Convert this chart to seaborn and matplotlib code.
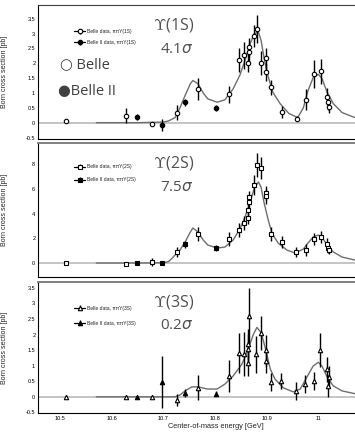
import matplotlib
matplotlib.use("Agg")
import matplotlib.pyplot as plt
import seaborn as sns
from matplotlib.ticker import MultipleLocator, FuncFormatter
from matplotlib.lines import Line2D

### data (x in GeV, y in pb)
# Upsilon(1S)
u1_belle_x = [10.511, 10.627, 10.678, 10.726, 10.767, 10.827, 10.847, 10.856, 10.864, 10.866, 10.866,
              10.876, 10.882, 10.889, 10.899, 10.899, 10.909, 10.930, 10.959, 10.976, 10.992, 11.005,
              11.017, 11.019, 11.021]
u1_belle_y = [0.07, 0.24, -0.03, 0.34, 1.12, 0.95, 2.10, 2.27, 2.00, 2.37, 2.54, 2.92, 3.15, 2.00,
              2.17, 1.70, 1.19, 0.37, 0.14, 0.78, 1.63, 1.73, 0.88, 0.68, 0.54]
u1_belle_err = [0.05, 0.24, 0.06, 0.25, 0.37, 0.30, 0.40, 0.45, 0.30, 0.30, 0.30, 0.37, 0.47, 0.40,
                0.35, 0.30, 0.25, 0.20, 0.08, 0.36, 0.47, 0.42, 0.30, 0.25, 0.20]
u1_b2_x = [10.649, 10.697, 10.742, 10.802]
u1_b2_y = [0.20, -0.07, 0.68, 0.50]
u1_b2_err = [0.10, 0.20, 0.11, 0.10]
u1_fit_x = [10.57, 10.65, 10.70, 10.71, 10.7225, 10.732, 10.742, 10.752, 10.757, 10.767, 10.777,
            10.786, 10.804, 10.819, 10.835, 10.848, 10.858, 10.868, 10.876, 10.884, 10.889, 10.895,
            10.903, 10.912, 10.926, 10.943, 10.960, 10.971, 10.980, 10.990, 11.000, 11.007, 11.017,
            11.029, 11.046, 11.071]
u1_fit_y = [0, 0, 0.02, 0.06, 0.17, 0.50, 0.92, 1.31, 1.42, 1.31, 1.00, 0.80, 0.69, 0.77, 1.14,
            1.60, 2.10, 2.67, 3.00, 3.05, 2.78, 2.17, 1.54, 1.02, 0.64, 0.31, 0.17, 0.50, 1.08,
            1.52, 1.63, 1.49, 1.02, 0.64, 0.34, 0.17]

# Upsilon(2S)
u2_belle_x = [10.511, 10.627, 10.678, 10.726, 10.767, 10.827, 10.847, 10.856, 10.864, 10.864, 10.866,
              10.866, 10.876, 10.882, 10.889, 10.899, 10.899, 10.909, 10.930, 10.957, 10.976, 10.992,
              11.005, 11.017, 11.019, 11.021]
u2_belle_y = [0.0, -0.08, 0.08, 0.90, 2.35, 1.94, 2.67, 3.23, 3.64, 4.28, 4.93, 5.33, 6.30, 7.92,
              7.68, 5.66, 5.40, 2.34, 1.70, 0.89, 1.05, 1.94, 2.10, 1.54, 1.20, 1.05]
u2_belle_err = [0.15, 0.20, 0.30, 0.40, 0.55, 0.55, 0.55, 0.60, 0.50, 0.50, 0.50, 0.50, 0.80, 0.95,
                0.90, 0.60, 0.60, 0.60, 0.50, 0.40, 0.45, 0.45, 0.50, 0.45, 0.40, 0.35]
u2_b2_x = [10.649, 10.697, 10.742, 10.802]
u2_b2_y = [0.0, 0.0, 1.50, 1.20]
u2_b2_err = [0.15, 0.15, 0.25, 0.25]
u2_fit_x = [10.57, 10.65, 10.70, 10.71, 10.716, 10.7225, 10.732, 10.742, 10.752, 10.757, 10.767,
            10.777, 10.786, 10.804, 10.819, 10.835, 10.848, 10.858, 10.868, 10.876, 10.884, 10.889,
            10.895, 10.903, 10.910, 10.922, 10.939, 10.955, 10.971, 10.980, 10.990, 11.000, 11.007,
            11.017, 11.029, 11.046, 11.071]
u2_fit_y = [0, 0, 0.02, 0.12, 0.35, 0.65, 1.05, 1.70, 2.50, 2.83, 2.50, 1.86, 1.45, 1.21, 1.29,
            1.86, 2.75, 3.72, 4.93, 6.06, 6.55, 6.14, 4.85, 3.47, 2.42, 1.62, 1.05, 0.81, 1.13,
            1.62, 2.10, 2.26, 2.10, 1.45, 0.89, 0.48, 0.24]

# Upsilon(3S)
u3_belle_x = [10.511, 10.627, 10.678, 10.726, 10.767, 10.827, 10.847, 10.856, 10.864, 10.864, 10.864,
              10.866, 10.879, 10.889, 10.899, 10.899, 10.909, 10.928, 10.957, 10.974, 10.992, 11.004,
              11.017, 11.019, 11.021]
u3_belle_y = [0, 0, 0, -0.10, 0.29, 0.67, 1.40, 1.37, 1.08, 1.53, 1.69, 2.61, 1.37, 2.04, 1.50,
              1.15, 0.48, 0.51, 0.19, 0.41, 0.51, 1.50, 0.89, 0.35, 0.64]
u3_belle_err = [0.03, 0.03, 0.03, 0.20, 0.40, 0.50, 0.65, 0.70, 0.40, 0.50, 0.50, 0.90, 0.60, 0.55,
                0.50, 0.40, 0.30, 0.25, 0.30, 0.30, 0.30, 0.55, 0.40, 0.35, 0.35]
u3_b2_x = [10.649, 10.697, 10.742, 10.802]
u3_b2_y = [0.0, 0.48, 0.13, 0.10]
u3_b2_err = [0.03, 0.83, 0.12, 0.08]
u3_fit_x = [10.57, 10.70, 10.7225, 10.732, 10.742, 10.755, 10.767, 10.785, 10.804, 10.819, 10.835,
            10.852, 10.864, 10.874, 10.881, 10.889, 10.897, 10.907, 10.916, 10.932, 10.951, 10.965,
            10.978, 10.990, 11.000, 11.007, 11.017, 11.029, 11.046, 11.071]
u3_fit_y = [0, 0, 0, 0.06, 0.19, 0.32, 0.32, 0.25, 0.25, 0.41, 0.67, 1.05, 1.53, 2.00, 2.23, 2.07,
            1.59, 0.89, 0.57, 0.29, 0.16, 0.25, 0.64, 0.99, 1.11, 0.99, 0.64, 0.35, 0.19, 0.10]

states = ["1S", "2S", "3S"]
signifs = ["4.1", "7.5", "0.2"]

sns.set_style("white")
plt.rcParams["axes.unicode_minus"] = False
plt.rcParams["font.family"] = ["Liberation Sans", "DejaVu Sans"]

fig = plt.figure(figsize=(3.55, 4.33), dpi=100)
axes = [fig.add_axes([0.107, 0.679, 0.893, 0.3095]),
        fig.add_axes([0.107, 0.3603, 0.893, 0.3094]),
        fig.add_axes([0.107, 0.0462, 0.893, 0.3025])]

fmt_g = FuncFormatter(lambda v, p: "%g" % round(v, 2))


def draw_panel(ax, bx, by, be, b2x, b2y, b2e, fx, fy, marker, state, signif,
               ylim, major, minor, leg_anchor, leg_space):
    ax.axhline(0, color="#b5b5b5", lw=1.1, zorder=1)
    sns.lineplot(x=fx, y=fy, ax=ax, color="#6e6e6e", lw=1.0, zorder=2)
    e1 = ax.errorbar(bx, by, yerr=be, fmt=marker, ms=3.2, mfc="white", mec="black", mew=0.8,
                     ecolor="black", elinewidth=1.0, capsize=0, zorder=4)
    e2 = ax.errorbar(b2x, b2y, yerr=b2e, fmt=marker, ms=3.2, mfc="black", mec="black", mew=0.8,
                     ecolor="black", elinewidth=1.0, capsize=0, zorder=5)
    hline = Line2D([], [], color="black", lw=0.9)
    ax.legend([(hline, e1), (hline, e2)],
              ["Belle data, \u03c0\u03c0\u03a5(%s)" % state, "Belle II data, \u03c0\u03c0\u03a5(%s)" % state],
              loc="upper left", bbox_to_anchor=leg_anchor, frameon=False, fontsize=3.6,
              handlelength=2.2, handletextpad=0.3, labelspacing=leg_space, borderpad=0,
              borderaxespad=0)
    ax.text(0.363, 0.85, r"$\Upsilon$(%s)" % state, transform=ax.transAxes, fontsize=11.5,
            color="#505050", va="center", family=["Open Sans", "DejaVu Sans"],
            math_fontfamily="cm")
    ax.text(0.385, 0.67, signif + r"$\sigma$", transform=ax.transAxes, fontsize=11,
            color="#505050", va="center", family=["Open Sans", "DejaVu Sans"])

    ax.set_xlim(10.457, 11.071)
    ax.set_ylim(*ylim)
    ax.xaxis.set_major_locator(MultipleLocator(0.1))
    ax.xaxis.set_minor_locator(MultipleLocator(0.02))
    ax.xaxis.set_major_formatter(fmt_g)
    ax.yaxis.set_major_locator(MultipleLocator(major))
    ax.yaxis.set_minor_locator(MultipleLocator(minor))
    ax.yaxis.set_major_formatter(fmt_g)
    ax.tick_params(which="both", direction="in", width=0.6, colors="black", labelsize=4, pad=2)
    ax.tick_params(which="major", length=6)
    ax.tick_params(which="minor", length=3)
    ax.set_ylabel("Born cross section [pb]", fontsize=5)
    ax.yaxis.set_label_coords(-0.095, 0.5)
    ax.spines["right"].set_visible(False)
    for s in ["left", "bottom"]:
        ax.spines[s].set_linewidth(0.8)
        ax.spines[s].set_color("black")
    ax.spines["top"].set_color("#808080")
    ax.spines["top"].set_linewidth(1.4)


panels = [
    (u1_belle_x, u1_belle_y, u1_belle_err, u1_b2_x, u1_b2_y, u1_b2_err, u1_fit_x, u1_fit_y, "o",
     (-0.55, 3.965), 0.5, 0.1, (0.114, 0.82), 1.2),
    (u2_belle_x, u2_belle_y, u2_belle_err, u2_b2_x, u2_b2_y, u2_b2_err, u2_fit_x, u2_fit_y, "s",
     (-1.13, 9.70), 2, 0.4, (0.114, 0.84), 1.6),
    (u3_belle_x, u3_belle_y, u3_belle_err, u3_b2_x, u3_b2_y, u3_b2_err, u3_fit_x, u3_fit_y, "^",
     (-0.52, 3.69), 0.5, 0.1, (0.114, 0.82), 2.0),
]

for ax, p, st, sg in zip(axes, panels, states, signifs):
    bx, by, be, b2x, b2y, b2e, fx, fy, mk, yl, mj, mn, anchor, sp = p
    draw_panel(ax, bx, by, be, b2x, b2y, b2e, fx, fy, mk, st, sg, yl, mj, mn, anchor, sp)

axes[0].text(0.07, 0.552, "\u25cb Belle", transform=axes[0].transAxes, fontsize=10.5,
             color="#404040", va="center", family=["Open Sans", "DejaVu Sans"])
axes[0].text(0.062, 0.358, "\u25cfBelle II", transform=axes[0].transAxes, fontsize=10.5,
             color="#404040", va="center", family=["Open Sans", "DejaVu Sans"])

for ax in axes[:2]:
    ax.set_xticklabels([])
axes[0].spines["top"].set_color("#404040")
axes[0].spines["top"].set_linewidth(0.8)
axes[2].set_xlabel("Center-of-mass energy [GeV]", fontsize=5.3)
axes[2].xaxis.set_label_coords(0.56, -0.075)

fig.savefig("out.png", dpi=100)
